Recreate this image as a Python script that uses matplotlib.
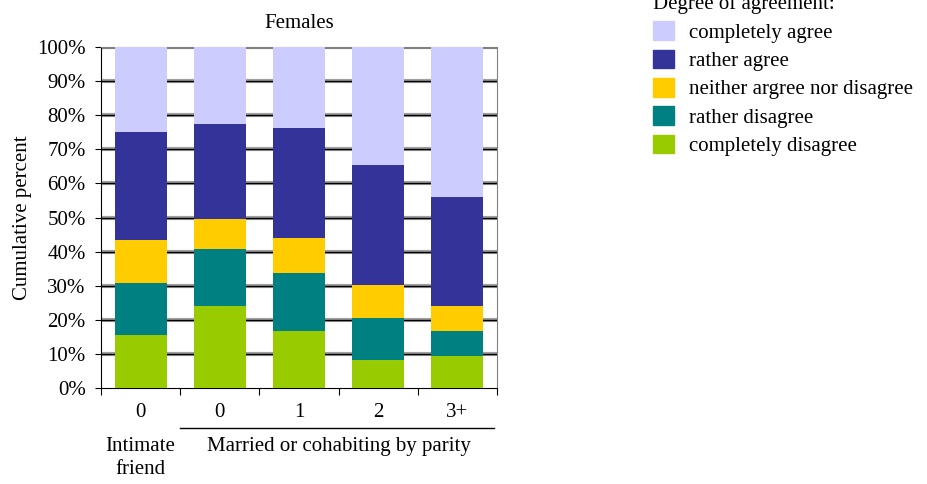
import matplotlib.pyplot as plt
from matplotlib.patches import Patch
import numpy as np

plt.rcParams["font.family"] = ["Liberation Serif", "DejaVu Serif"]

# cumulative percent at the top of each segment, per group
groups = ["0", "0", "1", "2", "3+"]
levels = ["completely disagree", "rather disagree", "neither argree nor disagree",
          "rather agree", "completely agree"]
cum_completely_disagree = [15.6, 24.1, 16.8, 8.3, 9.5]
cum_rather_disagree = [30.9, 40.8, 33.8, 20.6, 16.8]
cum_neither = [43.5, 49.6, 44.0, 30.3, 24.1]
cum_rather_agree = [75.1, 77.4, 76.3, 65.4, 56.1]
cum_completely_agree = [100, 100, 100, 100, 100]
colors = ["#99cc00", "#008080", "#ffcc00", "#333399", "#ccccff"]

fs = 15

fig = plt.figure(figsize=(9.27, 4.84), dpi=100)
ax = fig.add_axes([0.109, 0.198, 0.427, 0.705])

x = np.arange(len(groups))
cums = [cum_completely_disagree, cum_rather_disagree, cum_neither,
        cum_rather_agree, cum_completely_agree]
bottom = np.zeros(len(groups))
for cum, color in zip(cums, colors):
    cum = np.array(cum, dtype=float)
    ax.bar(x, cum - bottom, bottom=bottom, width=0.66, color=color, zorder=3)
    bottom = cum

# Excel-like patterned gridlines
for y in range(10, 101, 10):
    ax.axhline(y, color="#a0a0a0", lw=3, zorder=1)
    ax.axhline(y, color="black", lw=1, zorder=2)

ax.set_xlim(-0.5, len(groups) - 0.5)
ax.set_ylim(0, 100)
ax.set_yticks(range(0, 101, 10))
ax.set_yticklabels([f"{v}%" for v in range(0, 101, 10)], fontsize=fs)
ax.set_xticks(np.arange(-0.5, len(groups), 1.0))
ax.set_xticklabels([])
ax.set_xticks(x, minor=True)
ax.set_xticklabels(groups, minor=True, fontsize=fs)
ax.tick_params(axis="x", which="minor", length=0, pad=11)
ax.tick_params(axis="x", which="major", length=5, direction="out")
ax.tick_params(axis="y", length=4, direction="out", pad=7)
ax.spines["top"].set_color("#808080")
ax.spines["right"].set_color("#808080")
ax.set_ylabel("Cumulative percent", fontsize=fs, labelpad=4)
ax.set_title("Females", fontsize=fs, pad=14)

# group labels below the axis
ax.plot([0.5, 4.47], [-11.7, -11.7], color="black", lw=1, clip_on=False)
ax.text(0, -14.3, "Intimate\nfriend", ha="center", va="top", fontsize=fs,
        linespacing=1.3)
ax.text(2.5, -14.3, "Married or cohabiting by parity", ha="center", va="top",
        fontsize=fs)

handles = [Patch(color=c) for c in reversed(colors)]
fig.legend(handles, list(reversed(levels)), title="Degree of agreement:",
           loc="upper left", bbox_to_anchor=(0.684, 1.05), frameon=False,
           fontsize=fs, title_fontsize=fs, handlelength=1.0, handleheight=1.0,
           handletextpad=0.75, labelspacing=0.33, alignment="left")

fig.savefig("out.png", dpi=100)
